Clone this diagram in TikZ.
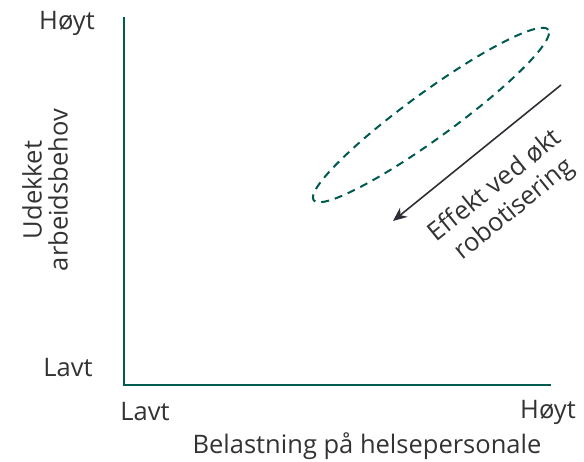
\documentclass[tikz,border=0pt]{standalone}
\usepackage{fontspec}
\setmainfont{Open Sans}
\usetikzlibrary{arrows.meta,shapes.geometric}
\definecolor{teal}{HTML}{005A50}
\definecolor{ink}{HTML}{2E2E36}
\definecolor{txt}{HTML}{333333}
\tikzset{
  axis/.style={draw=teal,line width=2.6pt},
  lbl/.style={text=txt,font=\fontsize{25.5}{28}\selectfont,inner sep=0pt},
}
\begin{document}
\begin{tikzpicture}[x=1pt,y=-1pt]
\useasboundingbox (0,0) rectangle (584,462);
\coordinate (top) at (124,17);
\coordinate (orig) at (124,385);
\coordinate (right) at (551,385);
\draw[axis] (top) -- (orig) -- (right);
\node[lbl] (yhi) at (67,23) {Høyt};
\node[lbl] (ylo) at (68,368) {Lavt};
\node[lbl,rotate=90,align=center,font=\fontsize{25.5}{26}\selectfont] (ylab) at (45,190) {Udekket\\arbeidsbehov};
\node[lbl] (xlo) at (145,412) {Lavt};
\node[lbl] (xhi) at (548,412) {Høyt};
\node[lbl] (xlab) at (367,446) {Belastning på helsepersonale};
\node[draw=teal,dash pattern=on 8pt off 6pt,line width=2pt,ellipse,minimum width=290pt,minimum height=46pt,rotate=36,inner sep=0pt] (ell) at (431,115) {};
\coordinate (as) at (561,85);
\coordinate (ae) at (393,221);
\draw[ink,line width=1.6pt,-{Stealth[length=14pt,width=12pt]}] (as) -- (ae);
\node[lbl,rotate=39,align=center,font=\fontsize{25.5}{30}\selectfont] (eff) at (505,198) {Effekt ved økt\\robotisering};
\end{tikzpicture}
\end{document}
